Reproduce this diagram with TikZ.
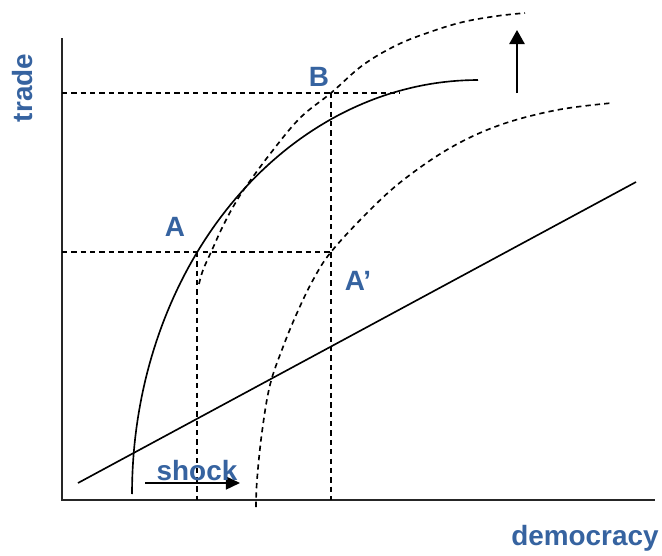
\documentclass[tikz,border=0pt]{standalone}
\usepackage{fontspec}
\setmainfont{Liberation Sans}
\usetikzlibrary{arrows.meta}
\definecolor{lblue}{RGB}{54,99,160}
\begin{document}
\begin{tikzpicture}[x=0.03cm,y=-0.03cm,
  curve/.style={line width=1.4pt, black},
  dsh/.style={line width=1.4pt, dash pattern=on 4.5pt off 3.5pt},
  lbl/.style={text=lblue, font=\fontsize{23.8}{26}\selectfont\bfseries, inner sep=0pt},
  axisline/.style={line width=1.6pt, black!85}]
\useasboundingbox (0,0) rectangle (662,556);
% key points
\coordinate (O) at (62,500);
\coordinate (ytop) at (62,38);
\coordinate (xend) at (655,500);
\coordinate (Apt) at (197,252);
\coordinate (Bpt) at (331,93);
\coordinate (App) at (331,252);
\coordinate (yA) at (62,252);
\coordinate (yB) at (62,93);
\coordinate (xA) at (197,500);
\coordinate (xAp) at (331,500);
\coordinate (Bend) at (400,93);
\coordinate (L1) at (78,483);
\coordinate (L2) at (636,182);
\coordinate (up1) at (517,93);
\coordinate (up2) at (517,30);
\coordinate (sh1) at (145,483);
\coordinate (sh2) at (240,483);
% axes
\draw[axisline] (ytop) -- (O) -- (xend);
% solid curve
\draw[curve] plot[domain=180:90, samples=80] ({478+346*cos(\x)}, {494-414*sin(\x)});
% upper dashed curve
\draw[dsh] plot[smooth, tension=0.6] coordinates {(199,284) (203,270) (212,250) (222,228) (233,207) (245,188) (270,154) (300,118) (331,93) (363,65) (397,45) (430,32) (463,22) (497,16) (525,13)};
% lower dashed curve
\draw[dsh] plot[smooth, tension=0.6] coordinates {(256,507) (257,480) (262,432) (270,385) (283,347) (297,313) (313,280) (331,252) (367,213) (402,181) (450,148) (500,125) (557,110) (612,103)};
% straight line
\draw[curve] (L1) -- (L2);
% dashed guides
\draw[dsh] (yA) -- (App);
\draw[dsh] (yB) -- (Bend);
\draw[dsh] (Apt) -- (xA);
\draw[dsh] (Bpt) -- (xAp);
% arrows
\draw[line width=1.7pt, -{Triangle[length=12pt,width=13pt]}] (up1) -- (up2);
\draw[line width=1.7pt, -{Triangle[length=12pt,width=11pt]}] (sh1) -- (sh2);
% labels
\node[lbl, rotate=90] (tradelbl) at (23,88) {trade};
\node[lbl] (demlbl) at (585,538) {democracy};
\node[lbl] (shocklbl) at (197,471) {shock};
\node[lbl] (Albl) at (175,227) {A};
\node[lbl] (Blbl) at (319,77) {B};
\node[lbl] (Aplbl) at (358,281) {A’};
\end{tikzpicture}
\end{document}
